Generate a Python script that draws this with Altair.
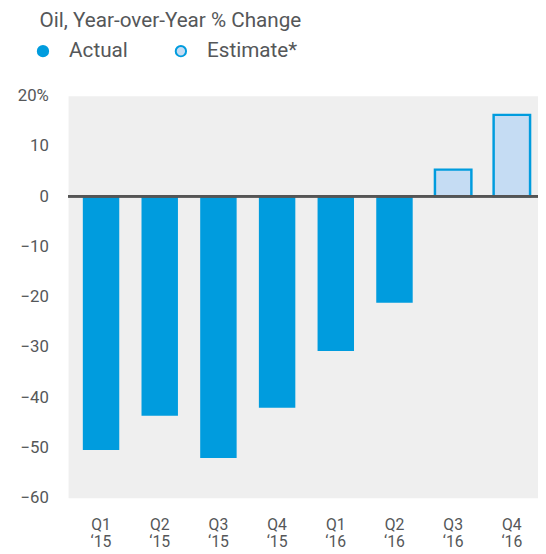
import altair as alt
import pandas as pd

quarters = ["Q1", "Q2", "Q3", "Q4", "Q1", "Q2", "Q3", "Q4"]
years = ["\u201815", "\u201815", "\u201815", "\u201815", "\u201816", "\u201816", "\u201816", "\u201816"]
values = [-50.5, -43.7, -52.1, -42.1, -30.8, -21.2, 5.3, 16.2]
kinds = ["Actual", "Actual", "Actual", "Actual", "Actual", "Actual", "Estimate*", "Estimate*"]
y_ticks = [-60, -50, -40, -30, -20, -10, 0, 10, 20]

BLUE = "#009CDE"
LIGHT = "#C5DCF3"
TEXT = "#555759"
FONT = "Roboto"

cats = [f"{q}|{y}" for q, y in zip(quarters, years)]
df = pd.DataFrame({"cat": cats, "value": values, "kind": kinds})

bars = alt.Chart(df).mark_bar().encode(
    x=alt.X(
        "cat:N",
        sort=cats,
        scale=alt.Scale(paddingInner=0.379, paddingOuter=0.193, align=0.65),
        axis=alt.Axis(
            title=None,
            labelExpr="split(datum.label, '|')",
            labelAngle=0,
            domain=False,
            ticks=False,
            labelPadding=19,
            labelFontSize=16,
            labelLineHeight=18,
            labelColor=TEXT,
            labelFont=FONT,
        ),
    ),
    y=alt.Y(
        "value:Q",
        scale=alt.Scale(domain=[-60, 20], nice=False, zero=False),
        axis=alt.Axis(
            title=None,
            values=y_ticks,
            labelExpr="datum.value == 20 ? '20%' : datum.label + '\u2002\u2005'",
            domain=False,
            ticks=False,
            grid=False,
            labelPadding=20,
            labelFontSize=17,
            labelColor=TEXT,
            labelFont=FONT,
        ),
    ),
    fill=alt.Fill(
        "kind:N",
        scale=alt.Scale(domain=["Actual", "Estimate*"], range=[BLUE, LIGHT]),
        legend=alt.Legend(title=None),
    ),
    stroke=alt.Stroke(
        "kind:N",
        scale=alt.Scale(domain=["Actual", "Estimate*"], range=[BLUE, BLUE]),
        legend=alt.Legend(title=None),
    ),
    strokeWidth=alt.condition("datum.kind == 'Estimate*'", alt.value(2.5), alt.value(0)),
)

zero = alt.Chart(df).mark_rule(color="#555555", strokeWidth=2).encode(y=alt.datum(0))

chart = (
    alt.layer(bars, zero)
    .properties(
        width=477,
        height=408,
        autosize=alt.AutoSizeParams(type="none"),
        padding={"left": 61, "top": 85, "right": 0, "bottom": 52},
        title=alt.TitleParams(
            "Oil, Year-over-Year % Change",
            anchor="start",
            frame="group",
            dx=-29,
            offset=10,
            font=FONT,
            fontSize=21,
            fontWeight="normal",
            color=TEXT,
        ),
    )
    .configure_view(fill="#EFEFEF", stroke="transparent")
    .configure_legend(
        orient="none",
        legendX=-36,
        legendY=-56,
        direction="horizontal",
        symbolType="circle",
        symbolSize=110,
        symbolStrokeWidth=2,
        labelFont=FONT,
        labelFontSize=21,
        labelColor=TEXT,
        labelOffset=16,
        columnPadding=43,
    )
)

chart.save("out.html", embed_options={"renderer": "svg", "actions": False})
